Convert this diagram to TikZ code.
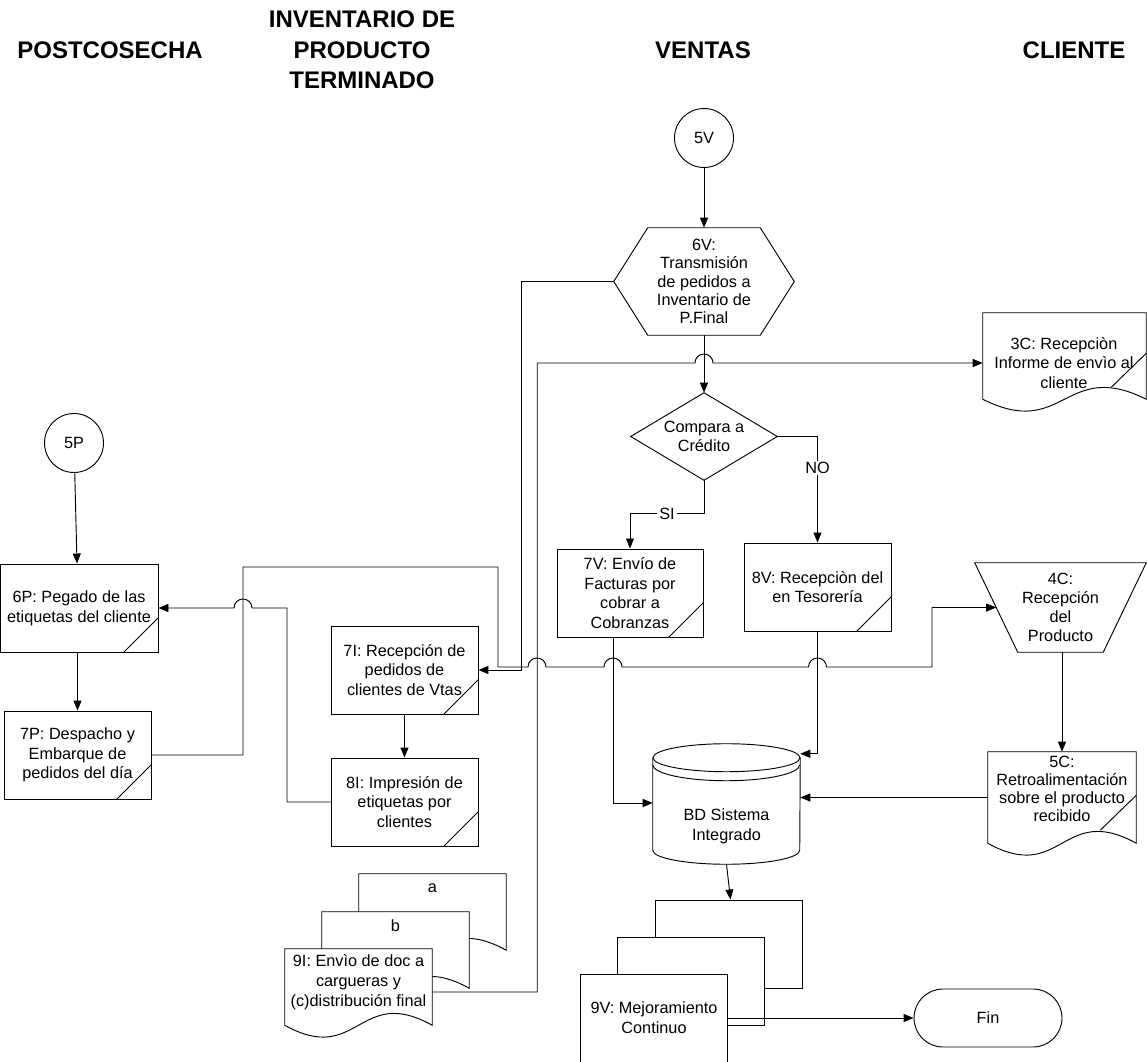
\documentclass[tikz,border=0pt]{standalone}
\usepackage{fontspec}
\setmainfont{Liberation Sans}
\usetikzlibrary{arrows.meta,calc,shapes.misc}
\tikzset{
  ln/.style={line width=0.7pt},
  arr/.style={line width=0.7pt, -{Triangle[length=7.5pt,width=6pt]}},
  sz/.style 2 args={minimum width=#1*0.75pt, minimum height=#2*0.75pt},
  box/.style={draw, line width=0.7pt, rectangle, sz={147}{88}},
  hdr/.style={font=\fontsize{18pt}{22.9pt}\selectfont\bfseries},
  circ/.style={draw, circle, line width=0.7pt, minimum size=59*0.75pt},
  lbl/.style={fill=white, inner xsep=2pt, inner ysep=1pt}
}
\newcommand\docshape[1]{\draw[ln,fill=white] (#1.south west) -- (#1.north west) -- (#1.north east) -- (#1.south east) .. controls ($(#1.south)+(0,-41)$) and ($(#1.south)+(0,41)$) .. (#1.south west) -- cycle;}
\newcommand\cornermark[1]{\draw[ln] ($(#1.south east)+(0,-35)$) -- ($(#1.south east)+(-35,0)$);}
\begin{document}
\begin{tikzpicture}[x=0.75pt,y=-0.75pt,
  every node/.style={font=\fontsize{12.2pt}{14.8pt}\selectfont, align=center, inner sep=0pt}]
\useasboundingbox (0,0) rectangle (1147,1062);

% headers
\node[hdr] (hP) at (110,50) {POSTCOSECHA};
\node[hdr] (hI) at (362,50) {INVENTARIO DE\\PRODUCTO\\TERMINADO};
\node[hdr] (hV) at (703,50) {VENTAS};
\node[hdr] (hC) at (1074,50) {CLIENTE};

% circles
\node[circ] (n5V) at (704,138) {5V};
\node[circ] (n5P) at (74,443) {5P};

% 6V hexagon
\node[sz={180}{107}, font=\fontsize{12.2pt}{13.8pt}\selectfont] (n6V) at (704,281.5) {6V:\\Transmisión\\de pedidos a\\Inventario de\\P.Final};
\draw[ln] (n6V.west) -- ($(n6V.north west)+(34,0)$) -- ($(n6V.north east)+(-34,0)$) -- (n6V.east) -- ($(n6V.south east)+(-34,0)$) -- ($(n6V.south west)+(34,0)$) -- cycle;

% decision
\node[sz={146}{87}] (nCmp) at (704,436.5) {Compara a\\Crédito};
\draw[ln] (nCmp.north) -- (nCmp.east) -- (nCmp.south) -- (nCmp.west) -- cycle;

% 3C document
\node[sz={163}{86}] (n3C) at (1064.5,356) {};
\docshape{n3C}
\draw[ln] ($(n3C.south east)+(0,-46)$) -- ($(n3C.south east)+(-35,-12)$);
\node (n3Ct) at (1064,363) {3C: Recepciòn\\Informe de envìo al\\cliente};

% process boxes
\node[box, sz={158}{88}] (n6P) at (79,608) {6P: Pegado de las\\etiquetas del cliente};
\cornermark{n6P}
\node[box] (n7P) at (77.5,755) {7P: Despacho y\\Embarque de\\pedidos del día};
\cornermark{n7P}
\node[box] (n7I) at (404.5,670) {7I: Recepción de\\pedidos de\\clientes de Vtas};
\cornermark{n7I}
\node[box] (n8I) at (404.5,802) {8I: Impresión de\\etiquetas por\\clientes};
\cornermark{n8I}
\node[box, sz={146}{88}] (n7V) at (630,593) {7V: Envío de\\Facturas por\\cobrar a\\Cobranzas};
\cornermark{n7V}
\node[box] (n8V) at (817.5,587) {8V: Recepciòn del\\en Tesorería};
\cornermark{n8V}

% 4C trapezoid
\node[sz={171}{89}, font=\fontsize{12.2pt}{14.3pt}\selectfont] (n4C) at (1060.5,607.5) {4C:\\Recepción\\del\\Producto};
\draw[ln] (n4C.north west) -- (n4C.north east) -- ($(n4C.south east)+(-43,0)$) -- ($(n4C.south west)+(43,0)$) -- cycle;

% 5C document
\node[sz={148}{91}] (n5C) at (1062,797.5) {};
\docshape{n5C}
\draw[ln] ($(n5C.south east)+(0,-48)$) -- ($(n5C.south east)+(-36,-13)$);
\node[font=\fontsize{12.2pt}{13.5pt}\selectfont] (n5Ct) at (1062,789) {5C:\\Retroalimentación\\sobre el producto\\recibido};

% database
\node[sz={147}{120}] (nBD) at (726.5,804) {};
\draw[ln,fill=white] ($(nBD.north west)+(0,14)$) -- ($(nBD.south west)+(0,-14)$) arc[start angle=180,end angle=0,x radius=73.5,y radius=14] -- ($(nBD.north east)+(0,14)$);
\draw[ln] ($(nBD.north)+(0,14)$) ellipse[x radius=73.5,y radius=14];
\draw[ln] ($(nBD.north west)+(0,21)$) arc[start angle=180,end angle=0,x radius=73.5,y radius=16];
\node (nBDt) at (726.5,826) {BD Sistema\\Integrado};

% 9V stack
\node[box, fill=white] (n9Vb) at (728.5,944) {};
\node[box, fill=white] (n9Vm) at (691,981) {};
\node[box, fill=white] (n9V) at (654,1018) {9V: Mejoramiento\\Continuo};

% Fin
\node[draw, line width=0.7pt, rounded rectangle, sz={148}{58}] (nFin) at (988,1018) {Fin};

% 9I documents
\node[sz={147}{76}] (n9Ia) at (432.5,912) {};
\node[sz={147}{76}] (n9Ib) at (395.5,950) {};
\node[sz={147}{76}] (n9I) at (358.5,987) {};
\docshape{n9Ia}
\docshape{n9Ib}
\docshape{n9I}
\node (ta) at (432.5,888) {a};
\node (tb) at (395.5,926) {b};
\node (n9It) at (358.5,982) {9I: Envìo de doc a\\cargueras y\\(c)distribución final};

% connectors
\draw[arr] (n5V) -- (n6V.north);
\draw[arr] (n6V.south) -- (nCmp.north);
\coordinate (cSI) at ($(n7V.north)+(0,-35)$);
\draw[arr] (nCmp.south) |- (cSI) -- (n7V.north);
\node[lbl] (lSI) at (667,514) {SI};
\draw[arr] (nCmp.east) -| (n8V.north);
\node[lbl] (lNO) at (817.5,468) {NO};

\draw[arr] (n6V.west) -| ($(n7I.east)+(43,0)$) -- (n7I.east);

\draw[arr] ($(n9I.east)+(0,5)$) -- ++(105,0) |- (695,363) arc[start angle=180,end angle=360,radius=9] -- ($(n3C.west)+(0,7)$);

\draw[arr] (n7P.east) -- (243,755) |- (498,567) |- (528,667) arc[start angle=180,end angle=360,radius=9] -- (604,667) arc[start angle=180,end angle=360,radius=9] -- (808.5,667) arc[start angle=180,end angle=360,radius=9] -| (932,607.5) -- ($(n4C.west)+(21.5,0)$);

\draw[arr] (n8I.west) -- (287,802) |- (252,608) arc[start angle=0,end angle=-180,radius=9] -- (n6P.east);

\draw[arr] ($(n7V.south)+(-17,0)$) |- ($(nBD.west)+(0,-1)$);
\draw[arr] (n8V.south) |- ($(nBD.north east)+(0,10)$);
\draw[arr] (n5C.west) -- (n5C.west -| nBD.east);
\draw[arr] (n5C.north |- n4C.south) -- (n5C.north);
\draw[arr] (nBD.south) -- ($(n9Vb.north)+(2,0)$);
\draw[arr] (n9V.east) -- (nFin.west);

\draw[arr] (n5P) -- ($(n6P.north)+(-2,0)$);
\draw[arr] (n7P.north |- n6P.south) -- (n7P.north);
\draw[arr] (n7I.south) -- (n8I.north);
\end{tikzpicture}
\end{document}
